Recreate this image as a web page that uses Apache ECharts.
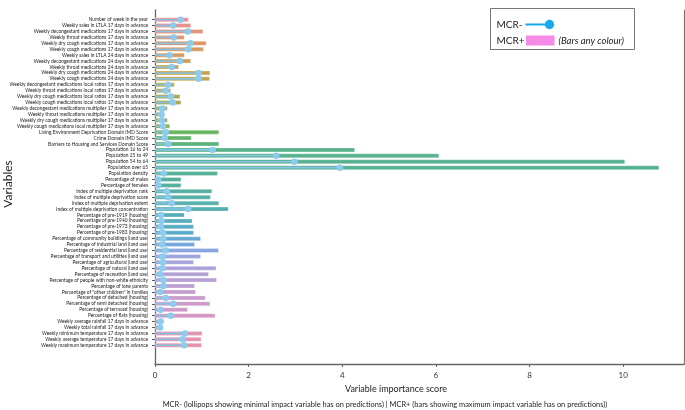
<!DOCTYPE html>
<html lang="en">
<head>
<meta charset="UTF-8">
<title>MCR variable importance</title>
<style>
  html, body { margin: 0; padding: 0; background: #fff; }
  #chart { width: 685px; height: 410px; }
</style>
</head>
<body>
<div id="chart"></div>
<script src="https://cdn.jsdelivr.net/npm/echarts@6/dist/echarts.min.js"></script>
<script>
var variables = [
  'Number of week in the year',
  'Weekly sales in LTLA 17 days in advance',
  'Weekly decongestant medications 17 days in advance',
  'Weekly throat medications 17 days in advance',
  'Weekly dry cough medications 17 days in advance',
  'Weekly cough medications 17 days in advance',
  'Weekly sales in LTLA 24 days in advance',
  'Weekly decongestant medications 24 days in advance',
  'Weekly throat medications 24 days in advance',
  'Weekly dry cough medications 24 days in advance',
  'Weekly cough medications 24 days in advance',
  'Weekly decongestant medications local ratios 17 days in advance',
  'Weekly throat medications local ratios 17 days in advance',
  'Weekly dry cough medications local ratios 17 days in advance',
  'Weekly cough medications local ratios 17 days in advance',
  'Weekly decongestant medications multiplier 17 days in advance',
  'Weekly throat medications multiplier 17 days in advance',
  'Weekly dry cough medications multiplier 17 days in advance',
  'Weekly cough medications local multiplier 17 days in advance',
  'Living Environment Deprivation Domain IMD Score',
  'Crime Domain IMD Score',
  'Barriers to Housing and Services Domain Score',
  'Population 16 to 24',
  'Population 25 to 49',
  'Population 54 to 64',
  'Population over 65',
  'Population density',
  'Percentage of males',
  'Percentage of females',
  'Index of multiple deprivation rank',
  'Index of multiple deprivation score',
  'Index of multiple deprivation extent',
  'Index of multiple deprivation concentration',
  'Percentage of pre-1919 (housing)',
  'Percentage of pre-1940 (housing)',
  'Percentage of pre-1973 (housing)',
  'Percentage of pre-1983 (housing)',
  'Percentage of community buildings (land use)',
  'Percentage of industrial land (land use)',
  'Percentage of residential land (land use)',
  'Percentage of transport and utilities (land use)',
  'Percentage of agricultural (land use)',
  'Percentage of natural (land use)',
  'Percentage of recreation (land use)',
  'Percentage of people with non-white ethnicity',
  'Percentage of lone parents',
  'Percentage of "other children" in families',
  'Percentage of detached (housing)',
  'Percentage of semi detached (housing)',
  'Percentage of terraced (housing)',
  'Percentage of flats (housing)',
  'Weekly average rainfall 17 days in advance',
  'Weekly total rainfall 17 days in advance',
  'Weekly minimum temperature 17 days in advance',
  'Weekly average temperature 17 days in advance',
  'Weekly maximum temperature 17 days in advance'
];

// MCR+ (bars)
var mcrPlus = [
  0.72, 0.77, 1.03, 0.63, 1.10, 1.04, 0.63, 0.77, 0.51, 1.18,
  1.17, 0.42, 0.34, 0.54, 0.56, 0.27, 0.19, 0.27, 0.32, 1.37,
  0.78, 1.37, 4.27, 6.07, 10.04, 10.77, 1.34, 0.56, 0.56, 1.22,
  1.19, 1.37, 1.57, 0.63, 0.80, 0.83, 0.83, 0.98, 0.85, 1.36,
  0.98, 0.83, 1.31, 1.15, 1.32, 0.85, 0.87, 1.08, 1.18, 0.70,
  1.29, 0.16, 0.14, 1.01, 0.99, 1.00
];

// MCR- (lollipops)
var mcrMinus = [
  0.55, 0.39, 0.70, 0.40, 0.76, 0.71, 0.31, 0.53, 0.36, 0.93,
  0.93, 0.28, 0.23, 0.34, 0.38, 0.16, 0.14, 0.15, 0.17, 0.23,
  0.21, 0.28, 1.23, 2.59, 2.98, 3.95, 0.19, 0.07, 0.07, 0.25,
  0.28, 0.36, 0.71, 0.13, 0.14, 0.13, 0.17, 0.18, 0.15, 0.23,
  0.16, 0.17, 0.16, 0.10, 0.18, 0.18, 0.11, 0.23, 0.39, 0.12,
  0.34, 0.12, 0.11, 0.64, 0.59, 0.62
];

var xMax = 11.3;
var tickStep = 2;

// rainbow-ish palette going down the rows
var colourStops = [
  [0, '#e98790'], [4, '#dc8c58'], [9, '#c29c44'], [13, '#a6a244'],
  [18, '#88a842'], [19, '#5cae50'], [22, '#49ab80'], [28, '#47a995'],
  [32, '#46a7aa'], [36, '#4aa5c6'], [38, '#689fdc'], [40, '#979ddd'],
  [43, '#ae9ad4'], [47, '#c394c8'], [51, '#d68cba'], [55, '#e689a2']
];

function hexToRgb(h) {
  return [parseInt(h.substr(1, 2), 16), parseInt(h.substr(3, 2), 16), parseInt(h.substr(5, 2), 16)];
}

function rowColour(i) {
  for (var k = 0; k < colourStops.length - 1; k++) {
    var a = colourStops[k], b = colourStops[k + 1];
    if (i >= a[0] && i <= b[0]) {
      var t = (i - a[0]) / (b[0] - a[0]);
      var ca = hexToRgb(a[1]), cb = hexToRgb(b[1]);
      var c = ca.map(function (v, j) { return Math.round(v + (cb[j] - v) * t); });
      return 'rgb(' + c.join(',') + ')';
    }
  }
  return colourStops[colourStops.length - 1][1];
}

var FONT = 'Lato';
var chart = echarts.init(document.getElementById('chart'), null, { renderer: 'canvas' });

chart.setOption({
  animation: false,
  backgroundColor: '#fff',
  textStyle: { fontFamily: FONT },
  grid: [
    // bars
    { left: 155, right: 1, top: 16.7, height: 331.5 },
    // frame + x axis
    { left: 155, right: 1, top: 10, bottom: 46 }
  ],
  xAxis: [
    { gridIndex: 0, type: 'value', min: 0, max: xMax, show: false },
    {
      gridIndex: 1, type: 'value', min: 0, max: xMax, interval: tickStep,
      axisLine: { lineStyle: { color: '#666', width: 1.3 } },
      axisTick: { show: true, length: 3, lineStyle: { color: '#666' } },
      axisLabel: { fontSize: 8, color: '#333', margin: 7, fontFamily: FONT,
        showMaxLabel: false },
      splitLine: { show: false }
    }
  ],
  yAxis: [
    {
      gridIndex: 0, type: 'category', inverse: true, data: variables,
      axisLine: { show: false },
      axisTick: { show: true, alignWithLabel: true, length: 3, lineStyle: { color: '#555' } },
      axisLabel: { interval: 0, fontSize: 4.85, color: '#222', margin: 7, fontFamily: FONT }
    },
    {
      gridIndex: 1, type: 'value', min: 0, max: 1,
      axisLine: { show: true, lineStyle: { color: '#666', width: 1.3 } },
      axisTick: { show: false }, axisLabel: { show: false }, splitLine: { show: false }
    },
    {
      gridIndex: 1, type: 'value', position: 'right', min: 0, max: 1,
      axisLine: { show: true, lineStyle: { color: '#777', width: 1.2 } },
      axisTick: { show: false }, axisLabel: { show: false }, splitLine: { show: false }
    },
    {
      // twin axis for the lollipops so they centre on their own
      gridIndex: 0, type: 'category', inverse: true, data: variables, show: false
    }
  ],
  series: [
    {
      name: 'MCR+', type: 'bar', xAxisIndex: 0, yAxisIndex: 0,
      barWidth: 4.6,
      data: mcrPlus.map(function (v, i) {
        return { value: v, itemStyle: { color: rowColour(i) } };
      }),
      itemStyle: { opacity: 0.92, borderColor: 'rgba(255,255,255,0.55)', borderWidth: 0.6 }
    },
    {
      name: 'MCR- stem', type: 'bar', xAxisIndex: 0, yAxisIndex: 3,
      barWidth: 1.6, z: 3,
      data: mcrMinus,
      itemStyle: { color: '#86c3e2' }
    },
    {
      name: 'MCR-', type: 'scatter', xAxisIndex: 0, yAxisIndex: 3,
      symbolSize: 6.5, z: 4,
      data: mcrMinus.map(function (v, i) { return [v, i]; }),
      itemStyle: { color: '#8ecbec', opacity: 1 }
    }
  ],
  graphic: [
    {
      type: 'text', x: 8, y: 184, rotation: Math.PI / 2,
      style: { text: 'Variables', fontSize: 12, fontFamily: FONT, fill: '#222',
        textAlign: 'center', textVerticalAlign: 'middle' }
    },
    {
      type: 'text', x: 396, y: 389,
      style: { text: 'Variable importance score', fontSize: 9, fontFamily: FONT, fill: '#222',
        textAlign: 'center', textVerticalAlign: 'middle' }
    },
    {
      type: 'text', x: 385, y: 405,
      style: { text: 'MCR- (lollipops showing minimal impact variable has on predictions) | MCR+ (bars showing maximum impact variable has on predictions))',
        fontSize: 7.45, fontFamily: FONT, fill: '#222', textAlign: 'center', textVerticalAlign: 'middle' }
    },
    // legend box
    {
      type: 'group', left: 490, top: 8,
      children: [
        { type: 'rect', shape: { x: 0, y: 0, width: 144, height: 41 },
          style: { fill: '#fff', stroke: '#777', lineWidth: 1 } },
        { type: 'text', x: 6, y: 16,
          style: { text: 'MCR-', fontSize: 10, fontFamily: FONT, fill: '#222', textVerticalAlign: 'middle' } },
        { type: 'line', shape: { x1: 35, y1: 16, x2: 58, y2: 16 },
          style: { stroke: '#17a9ea', lineWidth: 2 } },
        { type: 'circle', shape: { cx: 59, cy: 16, r: 4.7 },
          style: { fill: '#17a9ea' } },
        { type: 'text', x: 6, y: 32,
          style: { text: 'MCR+', fontSize: 10, fontFamily: FONT, fill: '#222', textVerticalAlign: 'middle' } },
        { type: 'rect', shape: { x: 35.5, y: 27, width: 28.5, height: 10 },
          style: { fill: '#f48be6' } },
        { type: 'text', x: 68, y: 32,
          style: { text: '(Bars any colour)', fontSize: 9.5, fontStyle: 'italic', fontFamily: FONT,
            fill: '#222', textVerticalAlign: 'middle' } }
      ]
    }
  ]
});
</script>
</body>
</html>
